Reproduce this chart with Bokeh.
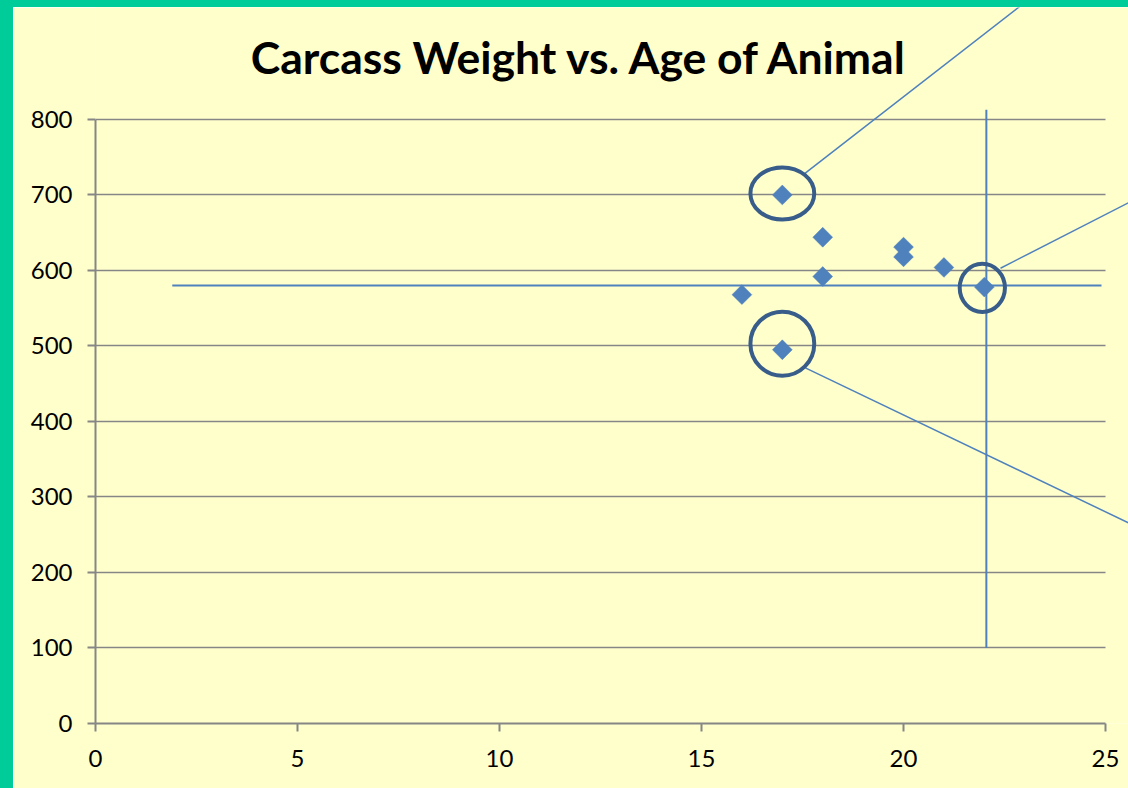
from bokeh.plotting import figure
from bokeh.models import Range1d, FixedTicker, Label
from bokeh.embed import file_html
from bokeh.resources import INLINE
import math

# ---- data ----
ages = [16, 17, 17, 18, 18, 20, 20, 21, 22]
weights = [568, 700, 495, 644, 592, 631, 618, 604, 578]

x_ticks = [0, 5, 10, 15, 20, 25]
y_ticks = [0, 100, 200, 300, 400, 500, 600, 700, 800]
title_text = "Carcass Weight vs. Age of Animal"

# highlight ellipses (centre x, centre y, width in years, height in kg)
ell_x = [17.0, 17.0, 21.95]
ell_y = [702, 503, 577]
ell_w = [1.58, 1.58, 1.12]
ell_h = [69, 85, 64]

# mean lines
mean_line_x = [1.9, 24.9]
mean_line_y = [580, 580]
vert_line_x = [22.05, 22.05]
vert_line_y = [100, 813]

# callout lines (start x, start y, end x, end y)
call_x0 = [17.52, 22.40, 17.57]
call_y0 = [727, 603, 471]
call_x1 = [23.39, 25.87, 25.87]
call_y1 = [971, 698, 258]

BLUE = "#4F81BD"
DARK = "#385D8A"
GRID = "#868686"
YELLOW = "#FFFFCC"
GREEN = "#00CC99"
FONT = "Lato"

p = figure(width=1128, height=788, output_backend="svg", toolbar_location=None,
           title=None,
           x_range=Range1d(0, 25.89), y_range=Range1d(0, 948.3),
           min_border_left=82, min_border_right=0, min_border_top=0, min_border_bottom=72,
           background_fill_color=YELLOW, border_fill_color=YELLOW,
           outline_line_color=None,
           styles={"border-top": f"7px solid {GREEN}",
                   "border-left": f"13px solid {GREEN}"})

for ax in (p.xaxis[0], p.yaxis[0]):
    ax.axis_line_color = GRID
    ax.axis_line_width = 2
    ax.major_tick_line_color = GRID
    ax.major_tick_line_width = 2
    ax.major_tick_in = 0
    ax.major_tick_out = 8
    ax.minor_tick_line_color = None
    ax.major_label_text_font = FONT
    ax.major_label_text_font_size = "24px"
    ax.major_label_text_color = "black"
p.xaxis[0].ticker = FixedTicker(ticks=x_ticks)
p.yaxis[0].ticker = FixedTicker(ticks=y_ticks)
p.xaxis[0].bounds = (x_ticks[0], x_ticks[-1])
p.yaxis[0].bounds = (y_ticks[0], y_ticks[-1])
p.xaxis[0].major_label_standoff = 18
p.yaxis[0].major_label_standoff = 15

p.xgrid.grid_line_color = None
p.ygrid.ticker = FixedTicker(ticks=y_ticks)
p.ygrid.cross_bounds = (x_ticks[0], x_ticks[-1])
p.ygrid.grid_line_color = GRID
p.ygrid.grid_line_width = 1.5

# title
p.add_layout(Label(x=12.0, y=884, text=title_text, text_align="center",
                   text_baseline="alphabetic", text_font=FONT,
                   text_font_style="bold", text_font_size="44.5px", text_color="black"))

# mean lines
p.line(mean_line_x, mean_line_y, line_color=BLUE, line_width=2)
p.line(vert_line_x, vert_line_y, line_color=BLUE, line_width=2)

# callouts
p.segment(x0=call_x0, y0=call_y0, x1=call_x1, y1=call_y1,
          line_color=BLUE, line_width=1.5)

# data points (diamonds)
p.scatter(ages, weights, marker="square", angle=math.pi / 4, size=14,
          fill_color=BLUE, line_color=BLUE, line_width=0.5)

# highlight ellipses
p.ellipse(x=ell_x, y=ell_y, width=ell_w, height=ell_h, fill_color=None,
          line_color=DARK, line_width=4)

open("out.html", "w").write(file_html(p, INLINE))
